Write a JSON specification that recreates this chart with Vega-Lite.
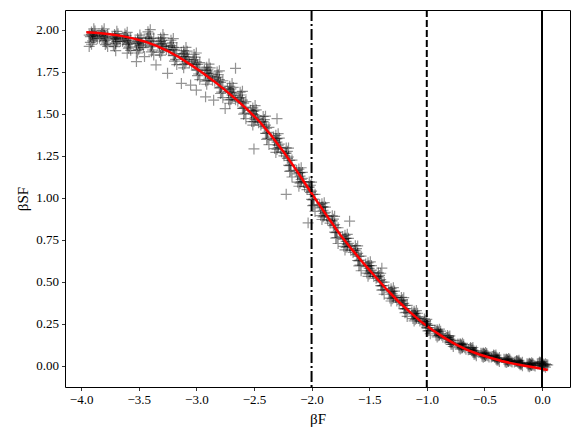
{
"$schema": "https://vega.github.io/schema/vega-lite/v6.json",
"width": 505,
"height": 377,
"autosize": {"type": "none"},
"padding": {"left": 65, "top": 10, "right": 11, "bottom": 53},
"background": "white",
"datasets": {
"pts": [
{"x":-3.9,"y":1.963},{"x":-3.91,"y":1.971},{"x":-3.89,"y":1.955},{"x":-3.88,"y":1.967},{"x":-3.92,"y":1.959},{"x":-3.9,"y":1.978},{"x":-3.89,"y":1.945},{"x":-3.91,"y":1.986},{"x":-3.87,"y":1.959},{"x":-3.93,"y":1.968},{"x":-3.9,"y":1.933},{"x":-3.88,"y":1.992},{"x":-3.92,"y":1.924},{"x":-3.89,"y":2.005},{"x":-3.91,"y":1.913},{"x":-3.86,"y":1.946},
{"x":-3.79,"y":1.959},{"x":-3.81,"y":1.955},{"x":-3.8,"y":1.967},{"x":-3.78,"y":1.945},{"x":-3.82,"y":1.971},{"x":-3.79,"y":1.936},{"x":-3.83,"y":1.964},{"x":-3.77,"y":1.972},{"x":-3.8,"y":1.932},{"x":-3.81,"y":1.985},{"x":-3.78,"y":1.92},{"x":-3.82,"y":1.994},{"x":-3.79,"y":1.911},{"x":-3.84,"y":1.948},{"x":-3.8,"y":2.005},{"x":-3.77,"y":1.9},
{"x":-3.7,"y":1.948},{"x":-3.71,"y":1.957},{"x":-3.69,"y":1.94},{"x":-3.68,"y":1.951},{"x":-3.72,"y":1.945},{"x":-3.7,"y":1.963},{"x":-3.69,"y":1.93},{"x":-3.71,"y":1.972},{"x":-3.67,"y":1.943},{"x":-3.73,"y":1.954},{"x":-3.7,"y":1.918},{"x":-3.68,"y":1.976},{"x":-3.72,"y":1.91},{"x":-3.69,"y":1.99},{"x":-3.71,"y":1.899},{"x":-3.66,"y":1.929},
{"x":-3.59,"y":1.937},{"x":-3.61,"y":1.935},{"x":-3.6,"y":1.946},{"x":-3.58,"y":1.923},{"x":-3.62,"y":1.952},{"x":-3.59,"y":1.915},{"x":-3.63,"y":1.946},{"x":-3.57,"y":1.949},{"x":-3.6,"y":1.911},{"x":-3.61,"y":1.965},{"x":-3.58,"y":1.898},{"x":-3.62,"y":1.974},{"x":-3.59,"y":1.89},{"x":-3.64,"y":1.93},{"x":-3.6,"y":1.984},{"x":-3.57,"y":1.877},
{"x":-3.5,"y":1.919},{"x":-3.51,"y":1.93},{"x":-3.49,"y":1.908},{"x":-3.48,"y":1.921},{"x":-3.52,"y":1.917},{"x":-3.5,"y":1.937},{"x":-3.49,"y":1.896},{"x":-3.51,"y":1.948},{"x":-3.47,"y":1.91},{"x":-3.53,"y":1.928},{"x":-3.5,"y":1.883},{"x":-3.48,"y":1.951},{"x":-3.52,"y":1.875},{"x":-3.49,"y":1.968},{"x":-3.51,"y":1.861},{"x":-3.46,"y":1.893},
{"x":-3.39,"y":1.934},{"x":-3.41,"y":1.932},{"x":-3.4,"y":1.947},{"x":-3.38,"y":1.914},{"x":-3.42,"y":1.956},{"x":-3.39,"y":1.903},{"x":-3.43,"y":1.948},{"x":-3.37,"y":1.95},{"x":-3.4,"y":1.898},{"x":-3.41,"y":1.974},{"x":-3.38,"y":1.879},{"x":-3.42,"y":1.987},{"x":-3.39,"y":1.868},{"x":-3.44,"y":1.926},{"x":-3.4,"y":2.0},{"x":-3.37,"y":1.849},
{"x":-3.3,"y":1.915},{"x":-3.31,"y":1.929},{"x":-3.29,"y":1.901},{"x":-3.28,"y":1.916},{"x":-3.32,"y":1.914},{"x":-3.3,"y":1.936},{"x":-3.29,"y":1.887},{"x":-3.31,"y":1.95},{"x":-3.27,"y":1.902},{"x":-3.33,"y":1.928},{"x":-3.3,"y":1.873},{"x":-3.28,"y":1.951},{"x":-3.32,"y":1.865},{"x":-3.29,"y":1.971},{"x":-3.31,"y":1.848},{"x":-3.26,"y":1.882},
{"x":-3.19,"y":1.88},{"x":-3.21,"y":1.88},{"x":-3.2,"y":1.894},{"x":-3.18,"y":1.858},{"x":-3.22,"y":1.905},{"x":-3.19,"y":1.848},{"x":-3.23,"y":1.898},{"x":-3.17,"y":1.893},{"x":-3.2,"y":1.845},{"x":-3.21,"y":1.922},{"x":-3.18,"y":1.823},{"x":-3.22,"y":1.937},{"x":-3.19,"y":1.813},{"x":-3.24,"y":1.878},{"x":-3.2,"y":1.947},{"x":-3.17,"y":1.792},
{"x":-3.1,"y":1.839},{"x":-3.11,"y":1.854},{"x":-3.09,"y":1.824},{"x":-3.08,"y":1.837},{"x":-3.12,"y":1.841},{"x":-3.1,"y":1.86},{"x":-3.09,"y":1.81},{"x":-3.11,"y":1.875},{"x":-3.07,"y":1.823},{"x":-3.13,"y":1.855},{"x":-3.1,"y":1.797},{"x":-3.08,"y":1.872},{"x":-3.12,"y":1.792},{"x":-3.09,"y":1.894},{"x":-3.11,"y":1.773},{"x":-3.06,"y":1.801},
{"x":-2.99,"y":1.793},{"x":-3.01,"y":1.795},{"x":-3.0,"y":1.808},{"x":-2.98,"y":1.771},{"x":-3.02,"y":1.821},{"x":-2.99,"y":1.761},{"x":-3.03,"y":1.815},{"x":-2.97,"y":1.804},{"x":-3.0,"y":1.759},{"x":-3.01,"y":1.837},{"x":-2.98,"y":1.736},{"x":-3.02,"y":1.852},{"x":-2.99,"y":1.726},{"x":-3.04,"y":1.795},{"x":-3.0,"y":1.861},{"x":-2.97,"y":1.703},
{"x":-2.9,"y":1.74},{"x":-2.91,"y":1.756},{"x":-2.89,"y":1.725},{"x":-2.88,"y":1.737},{"x":-2.92,"y":1.743},{"x":-2.9,"y":1.761},{"x":-2.89,"y":1.711},{"x":-2.91,"y":1.777},{"x":-2.87,"y":1.722},{"x":-2.93,"y":1.759},{"x":-2.9,"y":1.698},{"x":-2.88,"y":1.772},{"x":-2.92,"y":1.694},{"x":-2.89,"y":1.795},{"x":-2.91,"y":1.675},{"x":-2.86,"y":1.699},
{"x":-2.79,"y":1.686},{"x":-2.81,"y":1.69},{"x":-2.8,"y":1.702},{"x":-2.78,"y":1.663},{"x":-2.82,"y":1.717},{"x":-2.79,"y":1.655},{"x":-2.83,"y":1.712},{"x":-2.77,"y":1.696},{"x":-2.8,"y":1.653},{"x":-2.81,"y":1.732},{"x":-2.78,"y":1.628},{"x":-2.82,"y":1.748},{"x":-2.79,"y":1.62},{"x":-2.84,"y":1.693},{"x":-2.8,"y":1.755},{"x":-2.77,"y":1.595},
{"x":-2.7,"y":1.626},{"x":-2.71,"y":1.642},{"x":-2.69,"y":1.61},{"x":-2.68,"y":1.621},{"x":-2.72,"y":1.631},{"x":-2.7,"y":1.647},{"x":-2.69,"y":1.596},{"x":-2.71,"y":1.663},{"x":-2.67,"y":1.605},{"x":-2.73,"y":1.647},{"x":-2.7,"y":1.584},{"x":-2.68,"y":1.656},{"x":-2.72,"y":1.582},{"x":-2.69,"y":1.68},{"x":-2.71,"y":1.562},{"x":-2.66,"y":1.582},
{"x":-2.59,"y":1.563},{"x":-2.61,"y":1.569},{"x":-2.6,"y":1.58},{"x":-2.58,"y":1.539},{"x":-2.62,"y":1.596},{"x":-2.59,"y":1.532},{"x":-2.63,"y":1.592},{"x":-2.57,"y":1.572},{"x":-2.6,"y":1.531},{"x":-2.61,"y":1.611},{"x":-2.58,"y":1.504},{"x":-2.62,"y":1.628},{"x":-2.59,"y":1.497},{"x":-2.64,"y":1.574},{"x":-2.6,"y":1.633},{"x":-2.57,"y":1.47},
{"x":-2.5,"y":1.495},{"x":-2.51,"y":1.513},{"x":-2.49,"y":1.478},{"x":-2.48,"y":1.488},{"x":-2.52,"y":1.502},{"x":-2.5,"y":1.516},{"x":-2.49,"y":1.464},{"x":-2.51,"y":1.534},{"x":-2.47,"y":1.471},{"x":-2.53,"y":1.52},{"x":-2.5,"y":1.453},{"x":-2.48,"y":1.523},{"x":-2.52,"y":1.453},{"x":-2.49,"y":1.548},{"x":-2.51,"y":1.432},{"x":-2.46,"y":1.446},
{"x":-2.39,"y":1.413},{"x":-2.41,"y":1.423},{"x":-2.4,"y":1.432},{"x":-2.38,"y":1.388},{"x":-2.42,"y":1.452},{"x":-2.39,"y":1.382},{"x":-2.43,"y":1.45},{"x":-2.37,"y":1.418},{"x":-2.4,"y":1.383},{"x":-2.41,"y":1.465},{"x":-2.38,"y":1.353},{"x":-2.42,"y":1.483},{"x":-2.39,"y":1.347},{"x":-2.44,"y":1.433},{"x":-2.4,"y":1.485},{"x":-2.37,"y":1.316},
{"x":-2.3,"y":1.33},{"x":-2.31,"y":1.35},{"x":-2.29,"y":1.311},{"x":-2.28,"y":1.319},{"x":-2.32,"y":1.341},{"x":-2.3,"y":1.351},{"x":-2.29,"y":1.297},{"x":-2.31,"y":1.371},{"x":-2.27,"y":1.3},{"x":-2.33,"y":1.361},{"x":-2.3,"y":1.288},{"x":-2.28,"y":1.354},{"x":-2.32,"y":1.292},{"x":-2.29,"y":1.381},{"x":-2.31,"y":1.269},{"x":-2.26,"y":1.273},
{"x":-2.19,"y":1.222},{"x":-2.21,"y":1.234},{"x":-2.2,"y":1.242},{"x":-2.18,"y":1.195},{"x":-2.22,"y":1.265},{"x":-2.19,"y":1.191},{"x":-2.23,"y":1.264},{"x":-2.17,"y":1.224},{"x":-2.2,"y":1.193},{"x":-2.21,"y":1.276},{"x":-2.18,"y":1.16},{"x":-2.22,"y":1.296},{"x":-2.19,"y":1.156},{"x":-2.24,"y":1.249},{"x":-2.2,"y":1.295},{"x":-2.17,"y":1.123},
{"x":-2.1,"y":1.128},{"x":-2.11,"y":1.149},{"x":-2.09,"y":1.108},{"x":-2.08,"y":1.115},{"x":-2.12,"y":1.141},{"x":-2.1,"y":1.149},{"x":-2.09,"y":1.094},{"x":-2.11,"y":1.17},{"x":-2.07,"y":1.095},{"x":-2.13,"y":1.162},{"x":-2.1,"y":1.086},{"x":-2.08,"y":1.15},{"x":-2.12,"y":1.092},{"x":-2.09,"y":1.178},{"x":-2.11,"y":1.068},{"x":-2.06,"y":1.067},
{"x":-1.99,"y":1.019},{"x":-2.01,"y":1.032},{"x":-2.0,"y":1.039},{"x":-1.98,"y":0.991},{"x":-2.02,"y":1.063},{"x":-1.99,"y":0.987},{"x":-2.03,"y":1.062},{"x":-1.97,"y":1.02},{"x":-2.0,"y":0.99},{"x":-2.01,"y":1.074},{"x":-1.98,"y":0.956},{"x":-2.02,"y":1.094},{"x":-1.99,"y":0.952},{"x":-2.04,"y":1.048},{"x":-2.0,"y":1.092},{"x":-1.97,"y":0.918},
{"x":-1.9,"y":0.925},{"x":-1.91,"y":0.945},{"x":-1.89,"y":0.905},{"x":-1.88,"y":0.912},{"x":-1.92,"y":0.939},{"x":-1.9,"y":0.945},{"x":-1.89,"y":0.892},{"x":-1.91,"y":0.964},{"x":-1.87,"y":0.892},{"x":-1.93,"y":0.958},{"x":-1.9,"y":0.886},{"x":-1.88,"y":0.944},{"x":-1.92,"y":0.893},{"x":-1.89,"y":0.97},{"x":-1.91,"y":0.87},{"x":-1.86,"y":0.866},
{"x":-1.79,"y":0.821},{"x":-1.81,"y":0.833},{"x":-1.8,"y":0.84},{"x":-1.78,"y":0.795},{"x":-1.82,"y":0.862},{"x":-1.79,"y":0.792},{"x":-1.83,"y":0.862},{"x":-1.77,"y":0.821},{"x":-1.8,"y":0.795},{"x":-1.81,"y":0.872},{"x":-1.78,"y":0.763},{"x":-1.82,"y":0.892},{"x":-1.79,"y":0.759},{"x":-1.84,"y":0.849},{"x":-1.8,"y":0.889},{"x":-1.77,"y":0.727},
{"x":-1.7,"y":0.74},{"x":-1.71,"y":0.758},{"x":-1.69,"y":0.722},{"x":-1.68,"y":0.728},{"x":-1.72,"y":0.752},{"x":-1.7,"y":0.758},{"x":-1.69,"y":0.71},{"x":-1.71,"y":0.776},{"x":-1.67,"y":0.711},{"x":-1.73,"y":0.769},{"x":-1.7,"y":0.704},{"x":-1.68,"y":0.758},{"x":-1.72,"y":0.71},{"x":-1.69,"y":0.782},{"x":-1.71,"y":0.689},{"x":-1.66,"y":0.687},
{"x":-1.59,"y":0.651},{"x":-1.61,"y":0.661},{"x":-1.6,"y":0.668},{"x":-1.58,"y":0.628},{"x":-1.62,"y":0.687},{"x":-1.59,"y":0.624},{"x":-1.63,"y":0.687},{"x":-1.57,"y":0.652},{"x":-1.6,"y":0.626},{"x":-1.61,"y":0.697},{"x":-1.58,"y":0.598},{"x":-1.62,"y":0.714},{"x":-1.59,"y":0.594},{"x":-1.64,"y":0.674},{"x":-1.6,"y":0.713},{"x":-1.57,"y":0.565},
{"x":-1.5,"y":0.579},{"x":-1.51,"y":0.595},{"x":-1.49,"y":0.563},{"x":-1.48,"y":0.569},{"x":-1.52,"y":0.589},{"x":-1.5,"y":0.596},{"x":-1.49,"y":0.552},{"x":-1.51,"y":0.612},{"x":-1.47,"y":0.553},{"x":-1.53,"y":0.605},{"x":-1.5,"y":0.546},{"x":-1.48,"y":0.596},{"x":-1.52,"y":0.551},{"x":-1.49,"y":0.618},{"x":-1.51,"y":0.532},{"x":-1.46,"y":0.531},
{"x":-1.39,"y":0.497},{"x":-1.41,"y":0.507},{"x":-1.4,"y":0.512},{"x":-1.38,"y":0.477},{"x":-1.42,"y":0.53},{"x":-1.39,"y":0.475},{"x":-1.43,"y":0.53},{"x":-1.37,"y":0.497},{"x":-1.4,"y":0.477},{"x":-1.41,"y":0.537},{"x":-1.38,"y":0.452},{"x":-1.42,"y":0.552},{"x":-1.39,"y":0.45},{"x":-1.44,"y":0.52},{"x":-1.4,"y":0.55},{"x":-1.37,"y":0.425},
{"x":-1.3,"y":0.428},{"x":-1.31,"y":0.443},{"x":-1.29,"y":0.414},{"x":-1.28,"y":0.419},{"x":-1.32,"y":0.437},{"x":-1.3,"y":0.443},{"x":-1.29,"y":0.404},{"x":-1.31,"y":0.458},{"x":-1.27,"y":0.405},{"x":-1.33,"y":0.452},{"x":-1.3,"y":0.398},{"x":-1.28,"y":0.444},{"x":-1.32,"y":0.402},{"x":-1.29,"y":0.464},{"x":-1.31,"y":0.385},{"x":-1.26,"y":0.385},
{"x":-1.19,"y":0.358},{"x":-1.21,"y":0.366},{"x":-1.2,"y":0.371},{"x":-1.18,"y":0.34},{"x":-1.22,"y":0.386},{"x":-1.19,"y":0.338},{"x":-1.23,"y":0.386},{"x":-1.17,"y":0.359},{"x":-1.2,"y":0.34},{"x":-1.21,"y":0.393},{"x":-1.18,"y":0.318},{"x":-1.22,"y":0.406},{"x":-1.19,"y":0.315},{"x":-1.24,"y":0.376},{"x":-1.2,"y":0.405},{"x":-1.17,"y":0.293},
{"x":-1.1,"y":0.3},{"x":-1.11,"y":0.312},{"x":-1.09,"y":0.288},{"x":-1.08,"y":0.292},{"x":-1.12,"y":0.308},{"x":-1.1,"y":0.312},{"x":-1.09,"y":0.28},{"x":-1.11,"y":0.324},{"x":-1.07,"y":0.281},{"x":-1.13,"y":0.319},{"x":-1.1,"y":0.276},{"x":-1.08,"y":0.312},{"x":-1.12,"y":0.28},{"x":-1.09,"y":0.328},{"x":-1.11,"y":0.266},{"x":-1.06,"y":0.265},
{"x":-0.99,"y":0.24},{"x":-1.01,"y":0.246},{"x":-1.0,"y":0.25},{"x":-0.98,"y":0.226},{"x":-1.02,"y":0.262},{"x":-0.99,"y":0.224},{"x":-1.03,"y":0.262},{"x":-0.97,"y":0.24},{"x":-1.0,"y":0.226},{"x":-1.01,"y":0.267},{"x":-0.98,"y":0.209},{"x":-1.02,"y":0.278},{"x":-0.99,"y":0.207},{"x":-1.04,"y":0.254},{"x":-1.0,"y":0.276},{"x":-0.97,"y":0.19},
{"x":-0.9,"y":0.196},{"x":-0.91,"y":0.205},{"x":-0.89,"y":0.187},{"x":-0.88,"y":0.19},{"x":-0.92,"y":0.202},{"x":-0.9,"y":0.205},{"x":-0.89,"y":0.181},{"x":-0.91,"y":0.214},{"x":-0.87,"y":0.181},{"x":-0.93,"y":0.211},{"x":-0.9,"y":0.178},{"x":-0.88,"y":0.205},{"x":-0.92,"y":0.181},{"x":-0.89,"y":0.217},{"x":-0.91,"y":0.171},{"x":-0.86,"y":0.169},
{"x":-0.79,"y":0.15},{"x":-0.81,"y":0.156},{"x":-0.8,"y":0.158},{"x":-0.78,"y":0.14},{"x":-0.82,"y":0.167},{"x":-0.79,"y":0.139},{"x":-0.83,"y":0.168},{"x":-0.77,"y":0.15},{"x":-0.8,"y":0.141},{"x":-0.81,"y":0.171},{"x":-0.78,"y":0.128},{"x":-0.82,"y":0.179},{"x":-0.79,"y":0.127},{"x":-0.84,"y":0.163},{"x":-0.8,"y":0.177},{"x":-0.77,"y":0.114},
{"x":-0.7,"y":0.118},{"x":-0.71,"y":0.125},{"x":-0.69,"y":0.111},{"x":-0.68,"y":0.114},{"x":-0.72,"y":0.122},{"x":-0.7,"y":0.125},{"x":-0.69,"y":0.107},{"x":-0.71,"y":0.131},{"x":-0.67,"y":0.107},{"x":-0.73,"y":0.129},{"x":-0.7,"y":0.105},{"x":-0.68,"y":0.125},{"x":-0.72,"y":0.107},{"x":-0.69,"y":0.133},{"x":-0.71,"y":0.099},{"x":-0.66,"y":0.098},
{"x":-0.59,"y":0.087},{"x":-0.61,"y":0.091},{"x":-0.6,"y":0.093},{"x":-0.58,"y":0.08},{"x":-0.62,"y":0.099},{"x":-0.59,"y":0.078},{"x":-0.63,"y":0.099},{"x":-0.57,"y":0.088},{"x":-0.6,"y":0.079},{"x":-0.61,"y":0.103},{"x":-0.58,"y":0.07},{"x":-0.62,"y":0.108},{"x":-0.59,"y":0.068},{"x":-0.64,"y":0.095},{"x":-0.6,"y":0.108},{"x":-0.57,"y":0.059},
{"x":-0.5,"y":0.066},{"x":-0.51,"y":0.071},{"x":-0.49,"y":0.061},{"x":-0.48,"y":0.063},{"x":-0.52,"y":0.069},{"x":-0.5,"y":0.071},{"x":-0.49,"y":0.058},{"x":-0.51,"y":0.076},{"x":-0.47,"y":0.059},{"x":-0.53,"y":0.074},{"x":-0.5,"y":0.055},{"x":-0.48,"y":0.072},{"x":-0.52,"y":0.056},{"x":-0.49,"y":0.079},{"x":-0.51,"y":0.05},{"x":-0.46,"y":0.052},
{"x":-0.39,"y":0.047},{"x":-0.41,"y":0.049},{"x":-0.4,"y":0.051},{"x":-0.38,"y":0.041},{"x":-0.42,"y":0.056},{"x":-0.39,"y":0.04},{"x":-0.43,"y":0.055},{"x":-0.37,"y":0.048},{"x":-0.4,"y":0.04},{"x":-0.41,"y":0.059},{"x":-0.38,"y":0.033},{"x":-0.42,"y":0.063},{"x":-0.39,"y":0.032},{"x":-0.44,"y":0.052},{"x":-0.4,"y":0.063},{"x":-0.37,"y":0.025},
{"x":-0.3,"y":0.032},{"x":-0.31,"y":0.036},{"x":-0.29,"y":0.028},{"x":-0.28,"y":0.03},{"x":-0.32,"y":0.034},{"x":-0.3,"y":0.037},{"x":-0.29,"y":0.025},{"x":-0.31,"y":0.04},{"x":-0.27,"y":0.026},{"x":-0.33,"y":0.038},{"x":-0.3,"y":0.023},{"x":-0.28,"y":0.038},{"x":-0.32,"y":0.023},{"x":-0.29,"y":0.043},{"x":-0.31,"y":0.019},{"x":-0.26,"y":0.021},
{"x":-0.19,"y":0.018},{"x":-0.21,"y":0.02},{"x":-0.2,"y":0.022},{"x":-0.18,"y":0.014},{"x":-0.22,"y":0.025},{"x":-0.19,"y":0.012},{"x":-0.23,"y":0.024},{"x":-0.17,"y":0.02},{"x":-0.2,"y":0.012},{"x":-0.21,"y":0.028},{"x":-0.18,"y":0.007},{"x":-0.22,"y":0.031},{"x":-0.19,"y":0.005},{"x":-0.24,"y":0.021},{"x":-0.2,"y":0.032},{"x":-0.17,"y":0.0},
{"x":-0.1,"y":0.007},{"x":-0.11,"y":0.01},{"x":-0.09,"y":0.004},{"x":-0.08,"y":0.006},{"x":-0.12,"y":0.008},{"x":-0.1,"y":0.011},{"x":-0.09,"y":0.001},{"x":-0.11,"y":0.015},{"x":-0.07,"y":0.002},{"x":-0.13,"y":0.012},{"x":-0.1,"y":-0.001},{"x":-0.08,"y":0.013},{"x":-0.12,"y":-0.002},{"x":-0.09,"y":0.018},{"x":-0.11,"y":-0.006},{"x":-0.06,"y":-0.002},
{"x":0.01,"y":0.01},{"x":-0.01,"y":0.011},{"x":0.0,"y":0.013},{"x":0.02,"y":0.005},{"x":-0.02,"y":0.016},{"x":0.01,"y":0.003},{"x":-0.03,"y":0.015},{"x":0.03,"y":0.011},{"x":0.0,"y":0.003},{"x":-0.01,"y":0.019},{"x":0.02,"y":-0.002},{"x":-0.02,"y":0.022},{"x":0.01,"y":-0.004},{"x":-0.04,"y":0.011},{"x":0.0,"y":0.023},{"x":0.03,"y":-0.009},{"x":0.04,"y":0.006},{"x":0.05,"y":0.004},
{"x":-3.93,"y":1.9},{"x":-3.52,"y":1.81},{"x":-3.13,"y":1.68},{"x":-2.66,"y":1.77},{"x":-2.3,"y":1.47},{"x":-2.22,"y":1.02},{"x":-2.5,"y":1.29},{"x":-3.0,"y":1.64},{"x":-2.92,"y":1.6},{"x":-2.03,"y":0.85},{"x":-1.67,"y":0.86},{"x":-1.39,"y":0.58},{"x":-3.45,"y":1.84},{"x":-3.25,"y":1.74},{"x":-3.05,"y":1.67},{"x":-2.85,"y":1.58},{"x":-2.75,"y":1.53},{"x":-3.35,"y":1.79},{"x":-3.6,"y":1.86},{"x":-3.7,"y":1.875}
],
"fit": [
{"x":-3.955,"y":1.985},{"x":-3.85,"y":1.98},{"x":-3.75,"y":1.973},{"x":-3.65,"y":1.963},{"x":-3.55,"y":1.948},{"x":-3.45,"y":1.93},{"x":-3.35,"y":1.905},{"x":-3.25,"y":1.874},{"x":-3.15,"y":1.836},{"x":-3.05,"y":1.792},{"x":-2.95,"y":1.745},{"x":-2.85,"y":1.695},{"x":-2.75,"y":1.64},{"x":-2.65,"y":1.582},{"x":-2.55,"y":1.52},{"x":-2.45,"y":1.452},{"x":-2.35,"y":1.37},{"x":-2.25,"y":1.28},{"x":-2.15,"y":1.182},{"x":-2.05,"y":1.078},{"x":-1.95,"y":0.975},{"x":-1.85,"y":0.875},{"x":-1.75,"y":0.778},{"x":-1.65,"y":0.692},{"x":-1.55,"y":0.61},{"x":-1.45,"y":0.532},{"x":-1.35,"y":0.455},{"x":-1.25,"y":0.385},{"x":-1.15,"y":0.322},{"x":-1.05,"y":0.262},{"x":-0.95,"y":0.212},{"x":-0.85,"y":0.167},{"x":-0.75,"y":0.127},{"x":-0.65,"y":0.094},{"x":-0.55,"y":0.068},{"x":-0.45,"y":0.047},{"x":-0.35,"y":0.028},{"x":-0.25,"y":0.012},{"x":-0.15,"y":-0.001},{"x":-0.05,"y":-0.013},{"x":0.05,"y":-0.026}
],
"vlines": [
{"x":-2,"kind":"dashdot"},{"x":-1,"kind":"dashed"},{"x":0,"kind":"solid"}
]
},
"config": {
"view": {"stroke": "black", "strokeWidth": 1},
"axis": {"grid": false, "domain": false, "tickColor": "black", "tickSize": 3.5, "tickWidth": 0.8, "labelColor": "black", "labelFont": "Liberation Serif", "labelFontSize": 13, "labelPadding": 3, "titleFont": "Liberation Serif", "titleFontSize": 15, "titleFontWeight": "normal", "titleColor": "black", "titlePadding": 5}
},
"encoding": {
"x": {"field": "x", "type": "quantitative", "scale": {"domain": [-4.14, 0.243], "nice": false, "zero": false}, "axis": {"values": [-4, -3.5, -3, -2.5, -2, -1.5, -1, -0.5, 0], "format": ".1f", "title": "βF"}},
"y": {"field": "y", "type": "quantitative", "scale": {"domain": [-0.127, 2.117], "nice": false, "zero": false}, "axis": {"values": [0, 0.25, 0.5, 0.75, 1, 1.25, 1.5, 1.75, 2], "format": ".2f", "title": "βSF"}}
},
"layer": [
{"data": {"name": "pts"}, "mark": {"type": "point", "shape": "M-1,0H1M0,-1V1", "filled": false, "color": "black", "strokeWidth": 1.2, "strokeOpacity": 0.6, "size": 120}},
{"data": {"name": "fit"}, "mark": {"type": "line", "color": "#ff0000", "strokeWidth": 2.5}},
{"data": {"name": "vlines"}, "transform": [{"filter": "datum.kind === 'dashdot'"}], "mark": {"type": "rule", "color": "black", "strokeWidth": 2, "strokeDash": [11, 3, 2, 3]}, "encoding": {"y": null}},
{"data": {"name": "vlines"}, "transform": [{"filter": "datum.kind === 'dashed'"}], "mark": {"type": "rule", "color": "black", "strokeWidth": 2, "strokeDash": [7, 3]}, "encoding": {"y": null}},
{"data": {"name": "vlines"}, "transform": [{"filter": "datum.kind === 'solid'"}], "mark": {"type": "rule", "color": "black", "strokeWidth": 2}, "encoding": {"y": null}}
]
}
